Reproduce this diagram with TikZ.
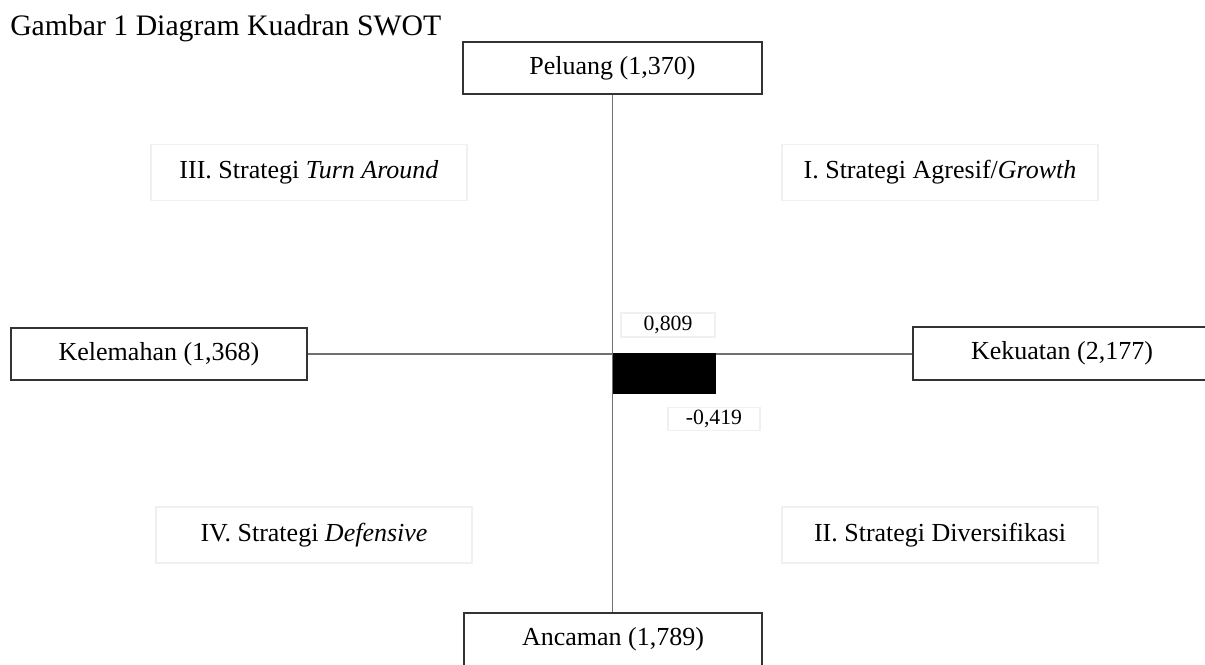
\documentclass[tikz,border=0pt]{standalone}
\usepackage{fontspec}
\setmainfont{Liberation Serif}
\definecolor{boxline}{HTML}{333333}
\definecolor{axisline}{HTML}{707070}
\definecolor{faint}{HTML}{F0F0F0}
\begin{document}
\begin{tikzpicture}[x=0.75pt,y=-0.75pt,
  mainbox/.style={draw=boxline, line width=1.2pt, fill=white, inner sep=0pt,
    font=\fontsize{19.5}{23}\selectfont},
  quadbox/.style={draw=faint, line width=0.8pt, inner sep=0pt,
    minimum width=237pt, minimum height=42pt,
    font=\fontsize{19.5}{23}\selectfont},
  numbox/.style={draw=faint, line width=0.8pt, inner sep=0pt,
    font=\fontsize{16.3}{19}\selectfont},
  axis/.style={draw=axisline, line width=0.9pt}]
\useasboundingbox (0,0) rectangle (1205,664);
% title
\node[anchor=base west, inner sep=0pt, font=\fontsize{22.3}{26}\selectfont] (title) at (10,35) {Gambar 1 Diagram Kuadran SWOT};
% quadrant labels
\node[quadbox] (q3) at (309,172.5) {III. Strategi \textit{Turn Around}};
\node[quadbox] (q1) at (940,172.5) {I. Strategi Agresif/\textit{Growth}};
\node[quadbox] (q4) at (314,535) {IV. Strategi \textit{Defensive}};
\node[quadbox] (q2) at (940,535) {II. Strategi Diversifikasi};
% main boxes
\node[mainbox, minimum width=224.25pt, minimum height=39pt] (pel) at (612.5,68) {Peluang (1,370)};
\node[mainbox, minimum width=222pt, minimum height=39pt] (kel) at (159,354) {Kelemahan (1,368)};
\node[mainbox, minimum width=223.5pt, minimum height=39.75pt] (kek) at (1062,353.5) {Kekuatan (2,177)};
\node[mainbox, minimum width=223.5pt, minimum height=39.75pt] (anc) at (613,639.5) {Ancaman (1,789)};
% axes
\draw[axis] (pel.south) -- (pel.south |- anc.north);
\draw[axis] (kel.east) -- (kel.east -| kek.west);
% black result rectangle
\node[fill=black, draw=black, inner sep=0pt, minimum width=76.5pt, minimum height=30pt, anchor=north west] (res) at (613,353) {};
% value labels
\node[numbox, minimum width=70.5pt, minimum height=18pt] (vx) at (668,325) {0,809};
\node[numbox, minimum width=69pt, minimum height=17pt] (vy) at (714,419) {-0,419};
\end{tikzpicture}
\end{document}
